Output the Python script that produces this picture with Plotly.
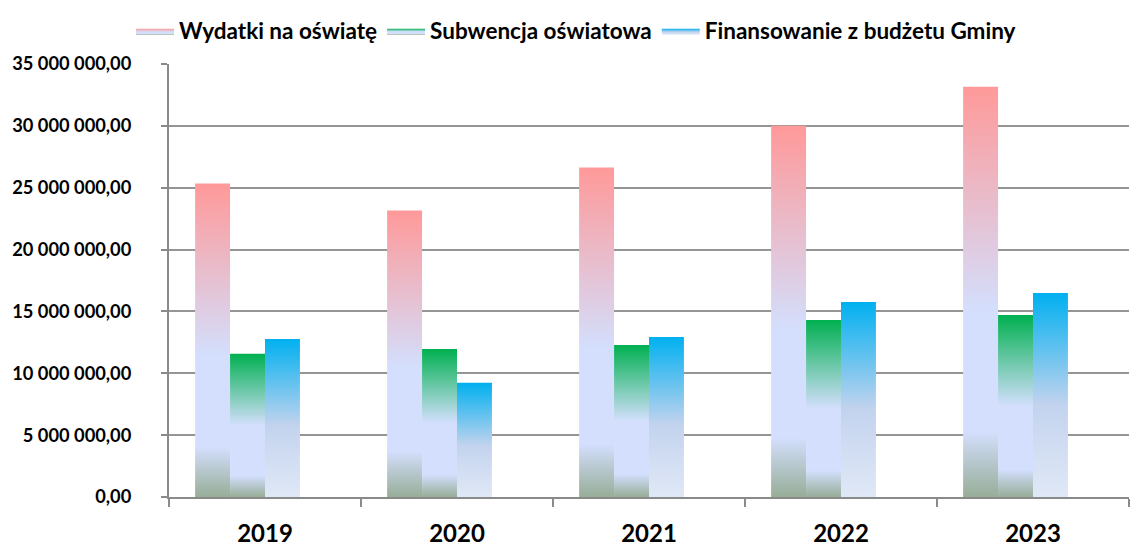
import plotly.graph_objects as go

years = ["2019", "2020", "2021", "2022", "2023"]
series_names = ["Wydatki na oświatę", "Subwencja oświatowa", "Finansowanie z budżetu Gminy"]
wydatki = [25340000, 23160000, 26630000, 30000000, 33170000]
subwencja = [11570000, 11970000, 12290000, 14310000, 14710000]
finansowanie = [12780000, 9230000, 12940000, 15760000, 16480000]
series_values = [wydatki, subwencja, finansowanie]

GREYGREEN = "#98ad98"
PLATEAU = "#d3dffd"
scales = [
    [[0, GREYGREEN], [0.16, PLATEAU], [0.45, PLATEAU], [1, "#ff9999"]],
    [[0, GREYGREEN], [0.15, PLATEAU], [0.5, PLATEAU], [1, "#00b050"]],
    [[0, "#e0e8f6"], [0.45, "#c3d3ee"], [1, "#00b0f0"]],
]

slot = 0.182  # width of one bar slot (4 slots per category, last one empty)

fig = go.Figure()
for s, (name, vals) in enumerate(zip(series_names, series_values)):
    for i, v in enumerate(vals):
        x0 = i - 2 * slot + s * slot
        x1 = x0 + slot
        fig.add_trace(go.Scatter(
            x=[x0, x1, x1, x0, x0], y=[0, 0, v, v, 0],
            mode="lines", line=dict(width=0), fill="toself",
            fillgradient=dict(type="vertical", colorscale=scales[s]),
            name=name, legendgroup=name, showlegend=(i == 0),
            hoverinfo="skip",
        ))

fig.update_layout(
    width=1147, height=554,
    margin=dict(l=161, r=26, t=56, b=65),
    paper_bgcolor="white", plot_bgcolor="white",
    separators=", ",
    font=dict(family="Lato", color="black"),
    legend=dict(orientation="h", xref="container", x=123 / 1147, xanchor="left",
                yref="container", y=1 - 23 / 554, yanchor="middle", itemwidth=38,
                font=dict(family="Lato", size=22.5, weight="bold", color="black"),
                bgcolor="rgba(0,0,0,0)"),
    xaxis=dict(range=[-0.5, 4.5], tickmode="array", tickvals=list(range(len(years))),
               ticktext=years, ticks="", showgrid=False, zeroline=False,
               showline=True, linecolor="#8a8a8a", linewidth=2, automargin=False,
               tickfont=dict(family="Lato", size=24, weight="bold", color="black"),
               ticklabelstandoff=14,
               minor=dict(tickmode="linear", tick0=-0.5, dtick=1, ticks="outside",
                          ticklen=8, tickwidth=2, tickcolor="#8a8a8a", showgrid=False)),
    yaxis=dict(range=[0, 35000000], tickmode="linear", tick0=0, dtick=5000000,
               tickformat=",.2f", showgrid=True, gridcolor="#959595", gridwidth=2,
               zeroline=False, showline=True, linecolor="#8a8a8a", linewidth=2,
               ticks="outside", ticklen=6, tickwidth=2, tickcolor="#8a8a8a",
               ticklabelstandoff=26, automargin=False,
               tickfont=dict(family="Lato", size=18.3, weight="bold", color="black")),
)

fig.write_html("out.html")
